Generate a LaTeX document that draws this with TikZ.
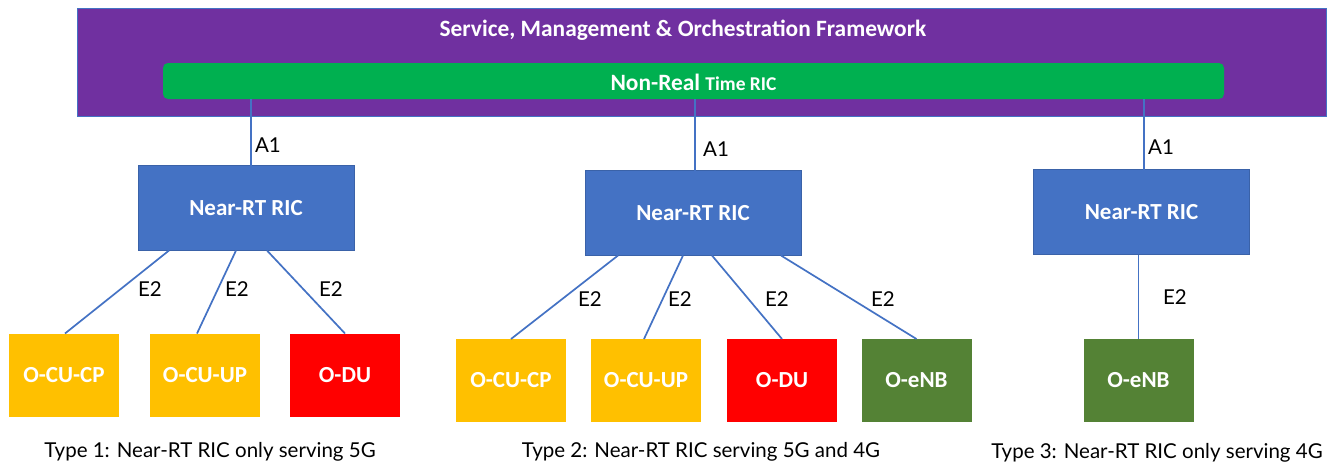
\documentclass[tikz,border=0pt]{standalone}
\usepackage{fontspec}
\usetikzlibrary{calc}
\setmainfont{Carlito}
\newfontfamily\lblfont{Lato}
\definecolor{smopurple}{HTML}{7030A0}
\definecolor{nrtgreen}{HTML}{00B050}
\definecolor{ricblue}{HTML}{4472C4}
\definecolor{ricedge}{HTML}{3A62A8}
\definecolor{cuyellow}{HTML}{FFC000}
\definecolor{dured}{HTML}{FF0000}
\definecolor{enbgreen}{HTML}{548235}
\definecolor{linkblue}{HTML}{4472C4}
\begin{document}
\begin{tikzpicture}[x=1pt,y=-1pt,
  every node/.style={inner sep=0pt, outer sep=0pt},
  smo/.style={fill=smopurple, draw=ricblue, line width=0.8pt},
  nrt/.style={fill=nrtgreen, rounded corners=5pt},
  ricbox/.style={fill=ricblue, draw=ricedge, line width=0.8pt, minimum width=216pt, minimum height=85pt, text=white, font=\fontsize{23}{25}\selectfont\bfseries},
  unitbox/.style={minimum width=110pt, minimum height=83pt, text=white, font=\fontsize{23}{25}\selectfont\bfseries},
  cu/.style={unitbox, fill=cuyellow},
  du/.style={unitbox, fill=dured},
  enb/.style={unitbox, fill=enbgreen},
  link/.style={draw=linkblue, line width=1.7pt},
  lbl/.style={font=\lblfont\fontsize{20.5}{22}\selectfont, text=black},
  captiontext/.style={font=\lblfont\fontsize{20.5}{22}\selectfont, text=black}
]
\useasboundingbox (0,0) rectangle (1339,466);
\fill[white] (0,0) rectangle (1339,466);

% SMO framework
\node[smo, minimum width=1249pt, minimum height=108pt] (smo) at (701.5,62) {};
\node[text=white, font=\fontsize{23.4}{25}\selectfont\bfseries] (smotitle) at (683,30) {Service, Management \& Orchestration Framework};
\node[nrt, minimum width=1061pt, minimum height=36pt] (nonrt) at (693.5,81) {};
\node[text=white, font=\bfseries] (nonrttext) at (693.5,82) {\fontsize{23.4}{25}\selectfont Non-Real \fontsize{19.5}{21}\selectfont Time RIC};

% Near-RT RICs
\node[ricbox] (ric1) at (246,208) {Near-RT RIC};
\node[ricbox] (ric2) at (693,213) {Near-RT RIC};
\node[ricbox] (ric3) at (1141.5,212) {Near-RT RIC};

% A1 links
\coordinate (a1s1) at (251,99);
\coordinate (a1s2) at (695,99);
\coordinate (a1s3) at (1144,99);
\draw[link] (a1s1) -- (a1s1 |- ric1.north);
\draw[link] (a1s2) -- (a1s2 |- ric2.north);
\draw[link] (a1s3) -- (a1s3 |- ric3.north);
\node[lbl] at (268,145) {A1};
\node[lbl] at (716,149) {A1};
\node[lbl] at (1161,147) {A1};

% Type 1 units
\node[cu] (cp1) at (64,375) {O-CU-CP};
\node[cu] (up1) at (205,375) {O-CU-UP};
\node[du] (du1) at (345,375) {O-DU};
\draw[link] ($(ric1.south west)+(31,0)$) -- ($(cp1.north)+(1,0)$);
\draw[link] ($(ric1.south)+(-10,0)$) -- ($(up1.north)+(-8,0)$);
\draw[link] ($(ric1.south)+(21,0)$) -- (du1.north);
\node[lbl] at (150,289) {E2};
\node[lbl] at (237,289) {E2};
\node[lbl] at (331,289) {E2};
\node[captiontext] (cap1) at (210,452) {Type 1: Near-RT RIC only serving 5G};

% Type 2 units
\node[cu] (cp2) at (511,380.5) {O-CU-CP};
\node[cu] (up2) at (646,380.5) {O-CU-UP};
\node[du] (du2) at (782,380.5) {O-DU};
\node[enb] (enb2) at (916.5,380.5) {O-eNB};
\draw[link] ($(ric2.south)+(-75,0)$) -- (cp2.north);
\draw[link] ($(ric2.south)+(-10,0)$) -- ($(up2.north)+(-2,0)$);
\draw[link] ($(ric2.south)+(19,0)$) -- (du2.north);
\draw[link] ($(ric2.south)+(88,0)$) -- (enb2.north);
\node[lbl] at (590,299) {E2};
\node[lbl] at (680,299) {E2};
\node[lbl] at (777,299) {E2};
\node[lbl] at (883,299) {E2};
\node[captiontext] (cap2) at (701,452) {Type 2: Near-RT RIC serving 5G and 4G};

% Type 3 units
\node[enb] (enb3) at (1138.5,380.5) {O-eNB};
\draw[link] (enb3.north) -- (enb3.north |- ric3.south);
\node[lbl] at (1175,297) {E2};
\node[captiontext] (cap3) at (1157,453) {Type 3: Near-RT RIC only serving 4G};
\end{tikzpicture}
\end{document}
